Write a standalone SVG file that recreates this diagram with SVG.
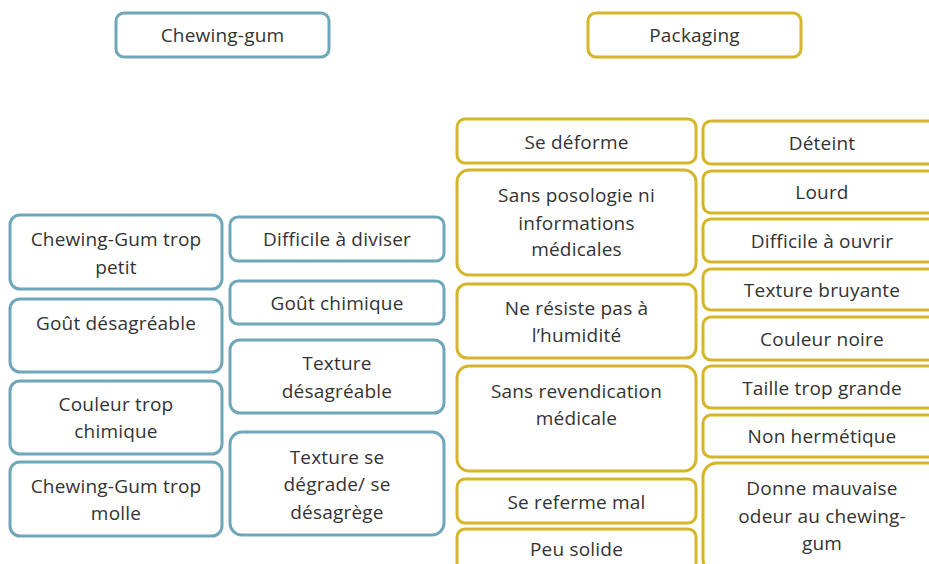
<svg xmlns="http://www.w3.org/2000/svg" width="929" height="564" viewBox="0 0 929 564">
<style>
rect{fill:#fff;stroke-width:3}
.b rect{stroke:#70a6b9}
.g rect{stroke:#d6b629}
text{font-family:"Open Sans","Liberation Sans",sans-serif;font-size:19px;letter-spacing:0.2px;fill:#333;text-anchor:middle}
</style>
<rect x="0" y="0" width="929" height="564" style="stroke:none;fill:#fff"/>
<g class="b">
<g id="h-chewing"><rect x="116" y="13" width="213" height="44" rx="8"/><text x="222.5" y="42">Chewing-gum</text></g>
<g id="c1"><rect x="10" y="215" width="212" height="74" rx="10"/><text x="116" y="246">Chewing-Gum trop</text><text x="116" y="274">petit</text></g>
<g id="c2"><rect x="10" y="299" width="212" height="73" rx="10"/><text x="116" y="330">Goût désagréable</text></g>
<g id="c3"><rect x="10" y="381" width="212" height="73" rx="10"/><text x="116" y="411">Couleur trop</text><text x="116" y="438">chimique</text></g>
<g id="c4"><rect x="10" y="462" width="212" height="74" rx="10"/><text x="116" y="493">Chewing-Gum trop</text><text x="116" y="520">molle</text></g>
<g id="c5"><rect x="230" y="217" width="214" height="44" rx="8"/><text x="337" y="246">Difficile à diviser</text></g>
<g id="c6"><rect x="230" y="281" width="214" height="43" rx="8"/><text x="337" y="310">Goût chimique</text></g>
<g id="c7"><rect x="230" y="340" width="214" height="73" rx="10"/><text x="337" y="370">Texture</text><text x="337" y="398">désagréable</text></g>
<g id="c8"><rect x="230" y="432" width="214" height="103" rx="12"/><text x="337" y="464">Texture se</text><text x="337" y="491">dégrade/ se</text><text x="337" y="519">désagrège</text></g>
</g>
<g class="g">
<g id="h-packaging"><rect x="588" y="13" width="213" height="44" rx="8"/><text x="694.5" y="42">Packaging</text></g>
<g id="p1"><rect x="457" y="119" width="239" height="44" rx="8"/><text x="576.5" y="149">Se déforme</text></g>
<g id="p2"><rect x="457" y="170" width="239" height="105" rx="12"/><text x="576.5" y="202">Sans posologie ni</text><text x="576.5" y="230">informations</text><text x="576.5" y="256">médicales</text></g>
<g id="p3"><rect x="457" y="284" width="239" height="74" rx="10"/><text x="576.5" y="315">Ne résiste pas à</text><text x="576.5" y="342">l’humidité</text></g>
<g id="p4"><rect x="457" y="366" width="239" height="105" rx="12"/><text x="576.5" y="398">Sans revendication</text><text x="576.5" y="425">médicale</text></g>
<g id="p5"><rect x="457" y="479" width="239" height="44" rx="8"/><text x="576.5" y="509">Se referme mal</text></g>
<g id="p6"><rect x="457" y="529" width="239" height="60" rx="8"/><text x="576.5" y="556">Peu solide</text></g>
<g id="p7"><rect x="703" y="121" width="239" height="43" rx="8"/><text x="822" y="150">Déteint</text></g>
<g id="p8"><rect x="703" y="171" width="239" height="42" rx="8"/><text x="822" y="199">Lourd</text></g>
<g id="p9"><rect x="703" y="219" width="239" height="43" rx="8"/><text x="822" y="248">Difficile à ouvrir</text></g>
<g id="p10"><rect x="703" y="269" width="239" height="41" rx="8"/><text x="822" y="297">Texture bruyante</text></g>
<g id="p11"><rect x="703" y="317" width="239" height="43" rx="8"/><text x="822" y="346">Couleur noire</text></g>
<g id="p12"><rect x="703" y="366" width="239" height="42" rx="8"/><text x="822" y="395">Taille trop grande</text></g>
<g id="p13"><rect x="703" y="415" width="239" height="42" rx="8"/><text x="822" y="443">Non hermétique</text></g>
<g id="p14"><rect x="703" y="463" width="239" height="110" rx="14"/><text x="822" y="495">Donne mauvaise</text><text x="822" y="523">odeur au chewing-</text><text x="822" y="550">gum</text></g>
</g>
<g id="connectors"/>
</svg>
